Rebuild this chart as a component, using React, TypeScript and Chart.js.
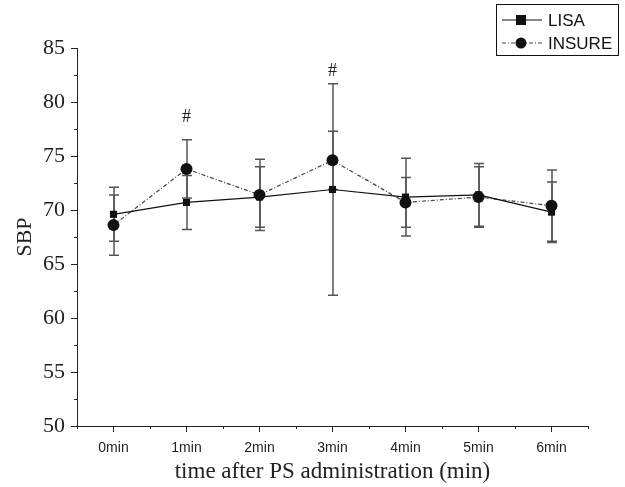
import React, { useEffect, useRef } from "react";
import { Chart, registerables } from "chart.js";

Chart.register(...registerables);

const categories = ["0min", "1min", "2min", "3min", "4min", "5min", "6min"];
const lisaMean = [69.6, 70.7, 71.2, 71.9, 71.2, 71.4, 69.8];
const lisaErr = [2.5, 2.5, 2.8, 9.8, 3.6, 2.9, 2.8];
const insureMean = [68.6, 73.8, 71.4, 74.6, 70.7, 71.2, 70.4];
const insureErr = [2.8, 2.7, 3.3, 2.7, 2.3, 2.8, 3.3];
const hashIndex = [1, 3];
const hashValue = [78.6, 82.8];
const yMin = 50;
const yMax = 85;
const yStep = 5;
const seriesNames = ["LISA", "INSURE"];

const errors = [lisaErr, insureErr];
const means = [lisaMean, insureMean];

const errorBarPlugin = {
  id: "errorBars",
  beforeDatasetsDraw(chart: any) {
    const ctx = chart.ctx;
    const y = chart.scales.y;
    ctx.save();
    ctx.strokeStyle = "#555";
    ctx.lineWidth = 1.5;
    chart.data.datasets.forEach((ds: any, i: number) => {
      const meta = chart.getDatasetMeta(i);
      meta.data.forEach((pt: any, j: number) => {
        const x = Math.round(pt.x);
        const top = y.getPixelForValue(means[i][j] + errors[i][j]);
        const bot = y.getPixelForValue(means[i][j] - errors[i][j]);
        ctx.beginPath();
        ctx.moveTo(x, top);
        ctx.lineTo(x, bot);
        ctx.moveTo(x - 5, top);
        ctx.lineTo(x + 5, top);
        ctx.moveTo(x - 5, bot);
        ctx.lineTo(x + 5, bot);
        ctx.stroke();
      });
    });
    ctx.restore();
  },
  afterDatasetsDraw(chart: any) {
    const ctx = chart.ctx;
    const y = chart.scales.y;
    const meta = chart.getDatasetMeta(1);
    ctx.save();
    ctx.fillStyle = "#222";
    ctx.font = "18px 'Liberation Serif'";
    ctx.textAlign = "center";
    ctx.textBaseline = "middle";
    hashIndex.forEach((idx, k) => {
      ctx.fillText("#", meta.data[idx].x, y.getPixelForValue(hashValue[k]));
    });
    ctx.restore();
  },
  afterDraw(chart: any) {
    const ctx = chart.ctx;
    const x = chart.scales.x;
    const y = chart.scales.y;
    ctx.save();
    ctx.strokeStyle = "#222";
    ctx.lineWidth = 1;
    for (let v = yMin + yStep / 2; v < yMax; v += yStep) {
      const py = Math.round(y.getPixelForValue(v)) + 0.5;
      ctx.beginPath();
      ctx.moveTo(x.left - 3, py);
      ctx.lineTo(x.left, py);
      ctx.stroke();
    }
    for (let i = 0; i <= categories.length; i++) {
      const px = Math.round(x.getPixelForValue(i - 0.5)) + 0.5;
      ctx.beginPath();
      ctx.moveTo(px, y.bottom);
      ctx.lineTo(px, y.bottom + 3);
      ctx.stroke();
    }
    // legend
    const bx = 496, by = 4, bw = 122, bh = 51;
    ctx.fillStyle = "#fff";
    ctx.fillRect(bx, by, bw, bh);
    ctx.strokeStyle = "#111";
    ctx.strokeRect(bx + 0.5, by + 0.5, bw, bh);
    const rows = [20, 43];
    ctx.lineWidth = 1;
    ctx.beginPath();
    ctx.moveTo(502, rows[0]);
    ctx.lineTo(542, rows[0]);
    ctx.stroke();
    ctx.fillStyle = "#111";
    ctx.fillRect(521 - 5, rows[0] - 5, 10, 10);
    ctx.strokeStyle = "#444";
    ctx.setLineDash([4, 2, 1, 2]);
    ctx.beginPath();
    ctx.moveTo(502, rows[1]);
    ctx.lineTo(542, rows[1]);
    ctx.stroke();
    ctx.setLineDash([]);
    ctx.beginPath();
    ctx.arc(521, rows[1], 5.5, 0, Math.PI * 2);
    ctx.fill();
    ctx.font = "17px 'Liberation Sans'";
    ctx.textBaseline = "middle";
    ctx.textAlign = "left";
    ctx.fillText(seriesNames[0], 548, rows[0] + 1);
    ctx.fillText(seriesNames[1], 548, rows[1] + 1);
    ctx.restore();
  },
};

export default function App() {
  const ref = useRef<HTMLCanvasElement>(null);
  useEffect(() => {
    if (!ref.current) return;
    const chart = new Chart(ref.current, {
      type: "line",
      data: {
        labels: categories,
        datasets: [
          {
            label: seriesNames[0],
            data: lisaMean,
            borderColor: "#111",
            backgroundColor: "#111",
            borderWidth: 1.2,
            pointStyle: "rect",
            pointRadius: 5,
            pointBorderWidth: 0,
            tension: 0,
          },
          {
            label: seriesNames[1],
            data: insureMean,
            borderColor: "#444",
            backgroundColor: "#111",
            borderWidth: 1.2,
            borderDash: [4, 2, 1, 2],
            pointStyle: "circle",
            pointRadius: 6,
            pointBorderWidth: 0,
            tension: 0,
          },
        ],
      },
      options: {
        animation: false,
        responsive: false,
        layout: { padding: { left: 12, right: 37, top: 48, bottom: 0 } },
        plugins: { legend: { display: false }, tooltip: { enabled: false } },
        scales: {
          x: {
            type: "category",
            offset: true,
            grid: {
              offset: false,
              drawOnChartArea: false,
              drawTicks: true,
              tickLength: 6,
              color: "#222",
            },
            border: { display: true, color: "#222", width: 1 },
            ticks: {
              color: "#222",
              font: { family: "'Liberation Sans'", size: 14 },
              padding: 8,
            },
            title: {
              display: true,
              text: "time after PS administration (min)",
              color: "#222",
              font: { family: "'Liberation Serif'", size: 23 },
              padding: { top: 0, bottom: 1 },
            },
            afterFit(scale: any) {
              scale.height = 61;
            },
          },
          y: {
            min: yMin,
            max: yMax,
            ticks: {
              stepSize: yStep,
              color: "#222",
              font: { family: "'Liberation Serif'", size: 22 },
              padding: 6,
            },
            grid: {
              drawOnChartArea: false,
              drawTicks: true,
              tickLength: 6,
              color: "#222",
            },
            border: { display: true, color: "#222", width: 1 },
            title: {
              display: true,
              text: "SBP",
              color: "#222",
              font: { family: "'Liberation Serif'", size: 22 },
              padding: 0,
            },
            afterFit(scale: any) {
              scale.width = 65;
            },
          },
        },
      },
      plugins: [errorBarPlugin],
    });
    return () => chart.destroy();
  }, []);
  return (
    <div style={{ position: "fixed", left: 0, top: 0, width: 625, height: 487, background: "#fff" }}>
      <canvas ref={ref} width={625} height={487} style={{ width: 625, height: 487 }} />
    </div>
  );
}
